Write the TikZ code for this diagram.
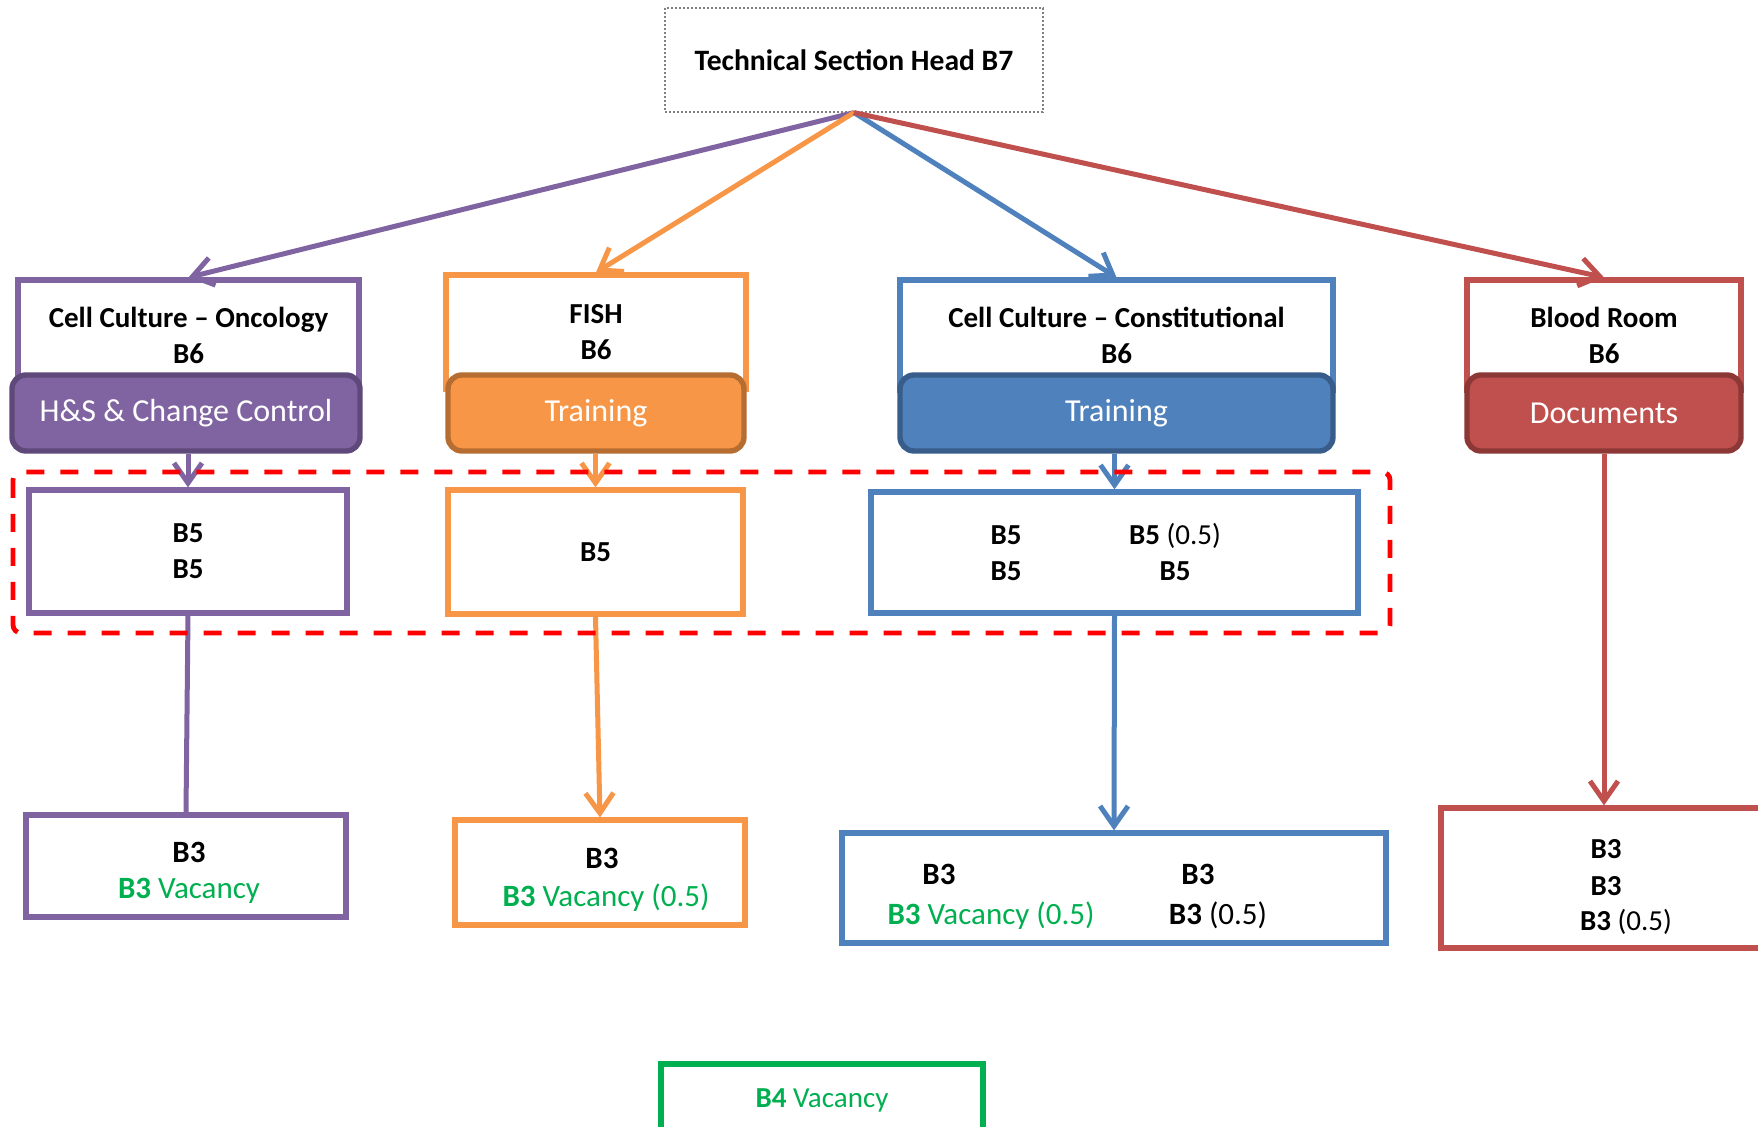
\documentclass[tikz,border=0pt]{standalone}
\usepackage{fontspec}
\setmainfont{Carlito}
\usetikzlibrary{arrows.meta}

\definecolor{ocpurple}{HTML}{8064A2}
\definecolor{ocpurpled}{HTML}{5F497A}
\definecolor{ocorange}{HTML}{F79646}
\definecolor{ocoranged}{HTML}{B66D31}
\definecolor{ocblue}{HTML}{4F81BD}
\definecolor{ocblued}{HTML}{385D8A}
\definecolor{ocred}{HTML}{C0504D}
\definecolor{ocredd}{HTML}{8C3836}
\definecolor{ocgreen}{HTML}{00B050}

\begin{document}
\begin{tikzpicture}[x=0.5pt, y=-0.5pt,
    wbox/.style={draw=#1, line width=2.6pt, fill=white, inner sep=0pt, align=center,
        font=\fontsize{14.5}{18}\selectfont\bfseries},
    cbox/.style 2 args={draw=#2, fill=#1, line width=2.7pt, rounded corners=7pt, inner sep=0pt,
        text=white, font=\fontsize{16}{19}\selectfont},
    lbl/.style={inner sep=0pt, anchor=base, font=\fontsize{14.5}{18}\selectfont},
    big/.style={font=\fontsize{15.5}{19}\selectfont},
    link/.style={draw=#1, line width=2.5pt, -{Straight Barb[length=10pt, width=14pt]}}]
    \useasboundingbox (0,0) rectangle (1758,1127);
    \clip (0,0) rectangle (1758,1127);
    \fill[white] (0,0) rectangle (1758,1127);

    % head
    \node[draw=gray, dash pattern=on 1pt off 1pt, line width=0.6pt, minimum width=189pt, minimum height=52pt,
        font=\fontsize{14.8}{17}\selectfont\bfseries] (head) at (854,60) {Technical Section Head B7};

    % section leads
    \node[wbox=ocpurple, minimum width=170.5pt, minimum height=55pt] (pO) at (188.5,335) {Cell Culture -- Oncology\\B6};
    \node[cbox={ocpurple}{ocpurpled}, minimum width=174pt, minimum height=38pt] (tO) at (186,413) {H\&S \& Change Control};

    \node[wbox=ocorange, minimum width=150pt, minimum height=57pt] (pF) at (596,332) {FISH\\B6};
    \node[cbox={ocorange}{ocoranged}, minimum width=148pt, minimum height=38pt] (tF) at (596,413) {Training};

    \node[wbox=ocblue, minimum width=216.5pt, minimum height=55pt] (pC) at (1116.5,335) {Cell Culture -- Constitutional\\B6};
    \node[cbox={ocblue}{ocblued}, minimum width=216.5pt, minimum height=38pt] (tC) at (1116.5,413) {Training};

    \node[wbox=ocred, minimum width=137pt, minimum height=55pt] (pB) at (1604,335) {Blood Room\\B6};
    \node[cbox={ocred}{ocredd}, minimum width=137pt, minimum height=38pt] (tB) at (1604,413) {Documents};

    % B5 row
    \node[wbox=ocpurple, minimum width=159pt, minimum height=61.5pt] (fO) at (188,551.5) {B5\\B5};
    \node[wbox=ocorange, minimum width=147.5pt, minimum height=62pt] (fF) at (595.5,552) {B5};
    \node[wbox=ocblue, minimum width=243.5pt, minimum height=60.5pt] (fC) at (1114.5,552.5) {};
    \node[lbl] (fCa) at (1006,545) {\textbf{B5}};
    \node[lbl] (fCb) at (1175,545) {\textbf{B5} (0.5)};
    \node[lbl] (fCc) at (1006,581) {\textbf{B5}};
    \node[lbl] (fCd) at (1175,581) {\textbf{B5}};

    % B3 row
    \node[wbox=ocpurple, minimum width=160pt, minimum height=51pt] (thO) at (186,866) {};
    \node[lbl, big] (thOa) at (189,863) {\textbf{B3}};
    \node[lbl, big, text=ocgreen] (thOb) at (189,899) {\textbf{B3} Vacancy};
    \node[wbox=ocorange, minimum width=145pt, minimum height=52.5pt] (thF) at (600,872.5) {};
    \node[lbl, big] (thFa) at (602,869) {\textbf{B3}};
    \node[lbl, big, text=ocgreen] (thFb) at (606,907) {\textbf{B3} Vacancy (0.5)};
    \node[wbox=ocblue, minimum width=272pt, minimum height=55pt] (thC) at (1114,888) {};
    \node[lbl, big] (thCa) at (939,885) {\textbf{B3}};
    \node[lbl, big] (thCb) at (1198,885) {\textbf{B3}};
    \node[lbl, big, text=ocgreen] (thCc) at (991,925) {\textbf{B3} Vacancy (0.5)};
    \node[lbl, big] (thCd) at (1218,925) {\textbf{B3} (0.5)};
    \node[wbox=ocred, minimum width=179.5pt, minimum height=70pt] (thB) at (1620.5,878) {};
    \node[lbl] (thBa) at (1606,859) {\textbf{B3}};
    \node[lbl] (thBb) at (1606,896) {\textbf{B3}};
    \node[lbl] (thBc) at (1626,931) {\textbf{B3} (0.5)};

    \node[wbox=ocgreen, minimum width=161pt, minimum height=36pt, font=\fontsize{14.5}{18}\selectfont, text=ocgreen] (four) at (822,1100)
        {\textbf{B4} Vacancy};

    % connectors
    \draw[link=ocpurple] (head.south) -- (pO.north);
    \draw[link=ocorange] (head.south) -- (pF.north);
    \draw[link=ocblue] (head.south) -- (pC.north);
    \draw[link=ocred] (head.south) -- (pB.north);

    \draw[link=ocpurple] (fO.north |- tO.south) -- (fO.north);
    \draw[link=ocorange] (fF.north |- tF.south) -- (fF.north);
    \draw[link=ocblue] (fC.north |- tC.south) -- (fC.north);

    \draw[ocpurple, line width=2.5pt] (fO.south) -- (thO.north);
    \draw[link=ocorange] (fF.south) -- (thF.north);
    \draw[link=ocblue] (fC.south) -- (thC.north);
    \draw[link=ocred] (tB.south) -- (tB.south |- thB.north);

    % B5 group
    \draw[red, line width=2.4pt, dash pattern=on 9pt off 8pt, rounded corners=4pt] (13,472) rectangle (1390,633);
\end{tikzpicture}
\end{document}
